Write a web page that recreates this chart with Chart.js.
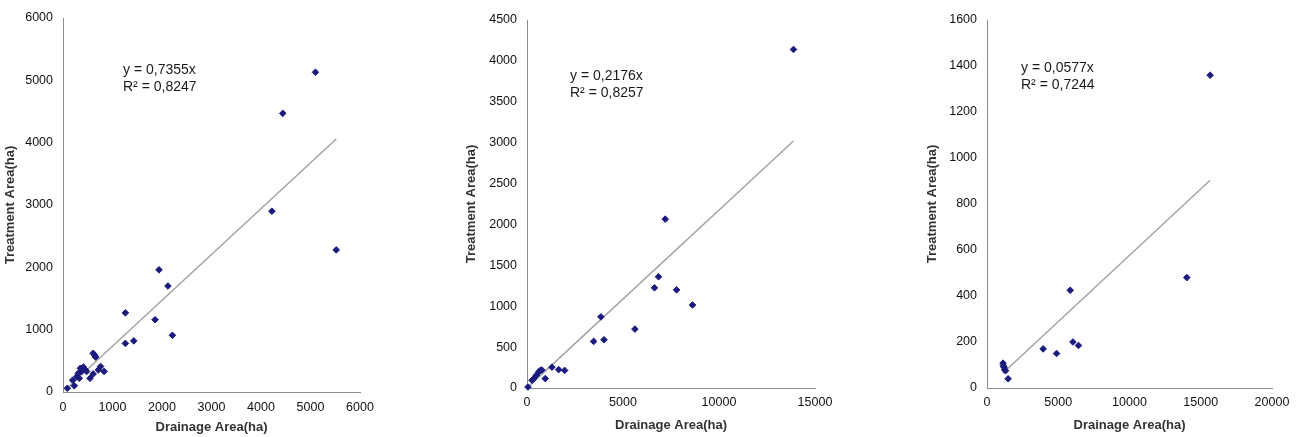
<!DOCTYPE html>
<html>
<head>
<meta charset="utf-8">
<script src="https://cdn.jsdelivr.net/npm/chart.js@4.4.1/dist/chart.umd.min.js"></script>
<style>
  body { margin: 0; background: #fff; width: 1298px; height: 437px; overflow: hidden; position: relative; }
  canvas { position: absolute; top: 0; }
</style>
</head>
<body>
<canvas id="c1" width="400" height="437" style="left:0px"></canvas>
<canvas id="c2" width="420" height="437" style="left:430px"></canvas>
<canvas id="c3" width="398" height="437" style="left:900px"></canvas>
<script>
// dados (ha)
const drainage1 = [5100, 4440, 4220, 5520, 1940, 2120, 1260, 1860, 2210, 1260, 1430, 610, 660, 760, 830, 610, 545, 410, 377, 309, 329, 477, 196, 228, 87, 714, 640, 350, 450, 280];
const treatment1 = [5130, 4470, 2900, 2280, 1960, 1700, 1270, 1160, 910, 780, 820, 620, 560, 410, 330, 290, 220, 400, 330, 300, 220, 330, 190, 100, 60, 355, 590, 380, 360, 250];

const drainage2 = [13880, 7200, 6850, 6640, 7790, 8620, 3850, 5620, 3470, 4010, 1300, 1650, 1960, 950, 690, 610, 485, 350, 260, 50, 775];
const treatment2 = [4140, 2065, 1360, 1225, 1200, 1015, 870, 720, 570, 590, 255, 225, 215, 115, 215, 195, 155, 115, 95, 12, 220];

const drainage3 = [15660, 14020, 5840, 6030, 6420, 3940, 4880, 1125, 1150, 1200, 1240, 1480, 1300];
const treatment3 = [1360, 480, 425, 200, 185, 170, 150, 108, 97, 90, 80, 40, 75];

// equações da linha de tendência
const slopes = [0.7355, 0.2176, 0.0577];
const equations = [
  ['y = 0,7355x', 'R² = 0,8247'],
  ['y = 0,2176x', 'R² = 0,8257'],
  ['y = 0,0577x', 'R² = 0,7244']
];

// eixos
const xMax = [6000, 15000, 20000];
const xStep = [1000, 5000, 5000];
const yMax = [6000, 4500, 1600];
const yStep = [1000, 500, 200];

const FONT = "'Liberation Sans', Arial, sans-serif";

// plugin que escreve a equação dentro da área do gráfico
const equationPlugin = {
  id: 'equation',
  afterDatasetsDraw(chart, args, opts) {
    const ctx = chart.ctx;
    ctx.save();
    ctx.font = '14px ' + FONT;
    ctx.fillStyle = '#1a1a1a';
    ctx.textBaseline = 'middle';
    opts.lines.forEach((t, i) => ctx.fillText(t, opts.x, opts.y + i * 17));
    ctx.restore();
  }
};

function criarGrafico(id, xs, ys, idx, lay) {
  const pontos = xs.map((x, i) => ({ x: x, y: ys[i] }));
  const xmin = Math.min(...xs), xmax = Math.max(...xs);
  const tendencia = [{ x: xmin, y: slopes[idx] * xmin }, { x: xmax, y: slopes[idx] * xmax }];

  return new Chart(document.getElementById(id), {
    type: 'scatter',
    data: {
      datasets: [
        {
          data: pontos,
          pointStyle: 'rectRot',
          pointRadius: 3.3,
          backgroundColor: '#1b1b7e',
          borderColor: '#1b1b7e',
          borderWidth: 1,
          order: 1,
          clip: false
        },
        {
          type: 'line',
          data: tendencia,
          borderColor: '#a3a3a3',
          borderWidth: 1.5,
          pointRadius: 0,
          fill: false,
          order: 2
        }
      ]
    },
    options: {
      responsive: false,
      animation: false,
      events: [],
      layout: { padding: { top: lay.top, right: lay.right, left: 0, bottom: 0 } },
      scales: {
        x: {
          type: 'linear',
          min: 0, max: xMax[idx],
          grid: { display: false, drawTicks: false },
          border: { display: true, color: '#8c8c8c', width: 1 },
          ticks: { stepSize: xStep[idx], padding: lay.xTickPad, color: '#111', font: { family: FONT, size: 12.5 }, callback: v => String(v) },
          title: { display: true, text: 'Drainage Area(ha)', color: '#333', padding: { top: 0, bottom: lay.xTitlePad }, font: { family: FONT, size: 13, weight: 'bold' } },
          afterFit: s => { s.height = lay.xHeight; }
        },
        y: {
          min: 0, max: yMax[idx],
          grid: { display: false, drawTicks: false },
          border: { display: true, color: '#8c8c8c', width: 1 },
          ticks: { stepSize: yStep[idx], padding: 10, color: '#111', font: { family: FONT, size: 12.5 }, callback: v => String(v) },
          title: { display: true, text: 'Treatment Area(ha)', color: '#333', padding: { top: lay.yTitlePad, bottom: 0 }, font: { family: FONT, size: 13, weight: 'bold' } },
          afterFit: s => { s.width = lay.yWidth; }
        }
      },
      plugins: {
        legend: { display: false },
        tooltip: { enabled: false },
        equation: { lines: equations[idx], x: lay.eqX, y: lay.eqY }
      }
    },
    plugins: [equationPlugin]
  });
}

criarGrafico('c1', drainage1, treatment1, 0,
  { top: 18, right: 40, yWidth: 63, xHeight: 45, xTickPad: 8, xTitlePad: 2, yTitlePad: 3, eqX: 123, eqY: 70 });
criarGrafico('c2', drainage2, treatment2, 1,
  { top: 20, right: 35, yWidth: 97, xHeight: 49, xTickPad: 7, xTitlePad: 4, yTitlePad: 34, eqX: 140, eqY: 76 });
criarGrafico('c3', drainage3, treatment3, 2,
  { top: 20, right: 26, yWidth: 87, xHeight: 49, xTickPad: 7, xTitlePad: 4, yTitlePad: 25, eqX: 121, eqY: 68 });
</script>
</body>
</html>
